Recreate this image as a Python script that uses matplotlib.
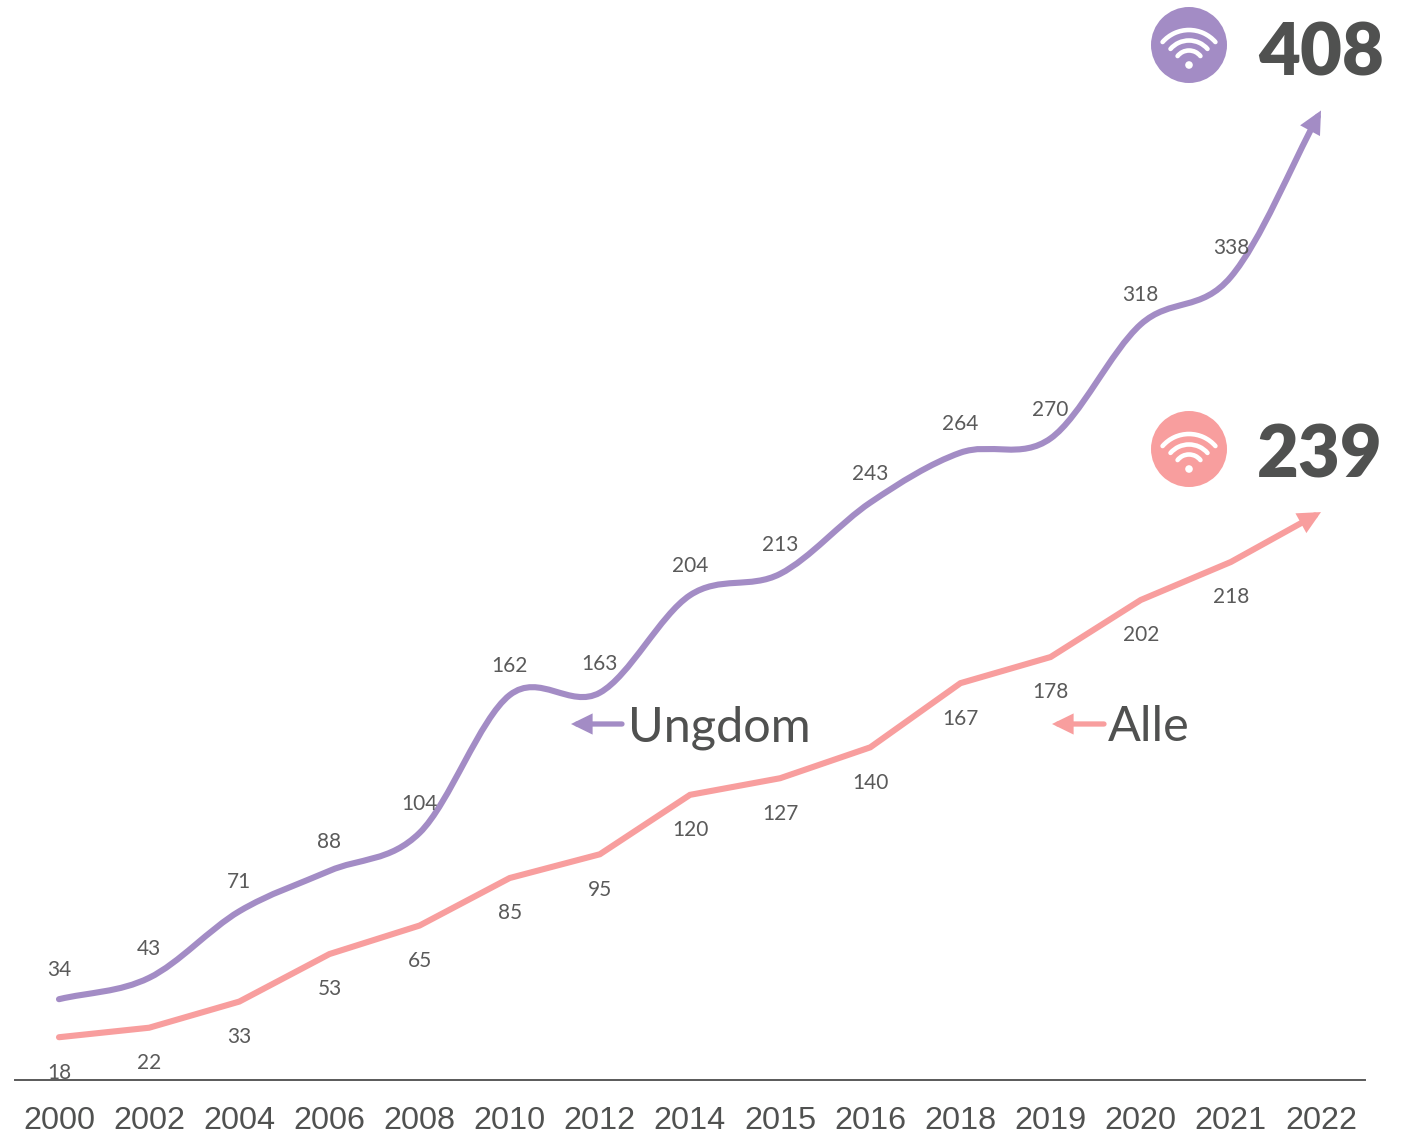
import matplotlib
matplotlib.use("Agg")
import matplotlib.pyplot as plt
import numpy as np
from matplotlib.patches import Arc, Circle, FancyArrowPatch
from matplotlib.path import Path

years = [2000, 2002, 2004, 2006, 2008, 2010, 2012, 2014, 2015, 2016, 2018, 2019, 2020, 2021, 2022]
ungdom = [34, 43, 71, 88, 104, 162, 163, 204, 213, 243, 264, 270, 318, 338, 408]
alle = [18, 22, 33, 53, 65, 85, 95, 120, 127, 140, 167, 178, 202, 218, 239]

PURPLE = "#A38CC5"
PINK = "#F89E9E"
TEXT = "#505150"
W, H = 1401, 1135


def smooth_path(values):
    # same kind of bezier smoothing as an office chart line
    y = np.array(values, dtype=float)
    x = np.arange(len(y), dtype=float)
    tx = np.gradient(x) / 3
    ty = np.gradient(y) / 3
    verts = [(x[0], y[0])]
    codes = [Path.MOVETO]
    for i in range(len(y) - 1):
        verts += [(x[i] + tx[i], y[i] + ty[i]),
                  (x[i + 1] - tx[i + 1], y[i + 1] - ty[i + 1]),
                  (x[i + 1], y[i + 1])]
        codes += [Path.CURVE4] * 3
    return Path(verts, codes)


def wifi_icon(ax, cx, cy, color):
    ax.add_patch(Circle((cx, cy), 38, fc=color, ec="none"))
    dot_y = cy + 20
    ax.add_patch(Circle((cx, dot_y), 3.8, fc="white", ec="none"))
    for r, a in [(35, 41), (24.5, 41), (14.5, 38)]:
        ax.add_patch(Arc((cx, dot_y), 2 * r, 2 * r, theta1=180 + a, theta2=360 - a,
                         ec="white", lw=3.3, capstyle="round"))


fig = plt.figure(figsize=(W / 100, H / 100), dpi=100)
ax = fig.add_axes([15 / W, (H - 1080) / H, 1350 / W, 1080 / H])
ax.set_xlim(-0.488, 14.488)
ax.set_ylim(0, 454.5)
ax.patch.set_alpha(0)

xs = np.arange(len(years))
arrow = "-|>,head_length=0.55,head_width=0.27"
ax.add_patch(FancyArrowPatch(path=smooth_path(ungdom), transform=ax.transData, arrowstyle=arrow,
                             mutation_scale=17, color=PURPLE, lw=4.4, clip_on=False, joinstyle="miter"))
ax.add_patch(FancyArrowPatch(path=Path(np.column_stack([xs, alle])), transform=ax.transData, arrowstyle=arrow,
                             mutation_scale=17, color=PINK, lw=4.4, clip_on=False, joinstyle="miter"))

label_font = dict(family="Lato", fontsize=15, color="#5A5A5A", ha="center", va="center")
for i in xs[:-1]:
    ax.annotate(str(ungdom[i]), (i, ungdom[i]), xytext=(0, 20.8), textcoords="offset points", **label_font)
    ax.annotate(str(alle[i]), (i, alle[i]), xytext=(0, -25.5), textcoords="offset points", **label_font)

ax.set_xticks(xs)
ax.set_xticklabels(years, family="Liberation Sans", fontsize=23.3, color=TEXT)
ax.tick_params(axis="x", length=0, pad=18.5)
ax.set_yticks([])
for side in ["top", "left", "right"]:
    ax.spines[side].set_visible(False)
ax.spines["bottom"].set_color("#595959")
ax.spines["bottom"].set_linewidth(1.4)

# overlay in pixel coordinates for the icons and legend notes
over = fig.add_axes([0, 0, 1, 1])
over.set_xlim(0, W)
over.set_ylim(H, 0)
over.axis("off")
over.patch.set_alpha(0)

wifi_icon(over, 1189, 45, PURPLE)
wifi_icon(over, 1189, 449, PINK)

big_font = dict(family="Lato", weight="heavy", fontsize=52, color=TEXT, ha="center", va="center")
over.text(1321, 55, str(ungdom[-1]), **big_font)
over.text(1320, 457, str(alle[-1]), **big_font)

note_font = dict(family="Lato", fontsize=35, color=TEXT, ha="left", va="baseline")
over.text(628, 741, "Ungdom", **note_font)
over.text(1108, 741, "Alle", **note_font)
for x0, x1, c in [(622, 571, PURPLE), (1104, 1052, PINK)]:
    over.add_patch(FancyArrowPatch((x0, 724), (x1, 724), arrowstyle=arrow, mutation_scale=17,
                                   color=c, lw=3.8, shrinkA=0, shrinkB=0, joinstyle="miter"))

fig.savefig("out.png", dpi=100)
